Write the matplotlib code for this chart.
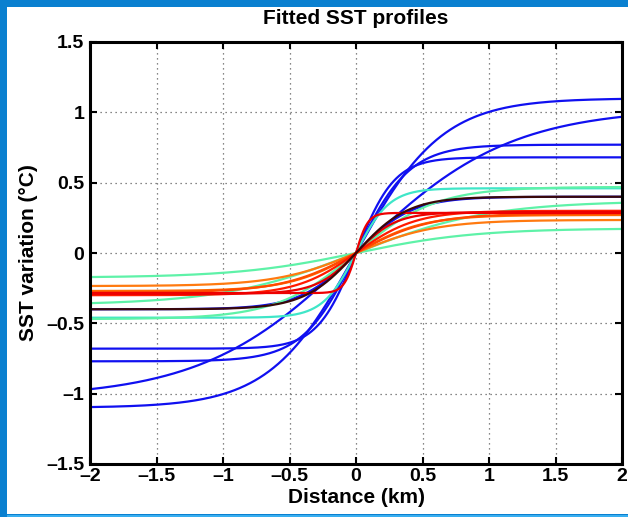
import numpy as np
import matplotlib
matplotlib.use("Agg")
import matplotlib.pyplot as plt
from matplotlib.patches import Rectangle
from matplotlib.ticker import FuncFormatter

# Fitted front parameters: SST(x) = amplitude * tanh(x / width)
amplitudes = [1.10, 1.03, 0.77, 0.68, 0.40, 0.46, 0.47, 0.37, 0.175,
              0.235, 0.27, 0.28, 0.30, 0.29, 0.285, 0.40]
widths     = [0.65, 1.15, 0.40, 0.29, 0.42, 0.25, 0.60, 1.00, 0.90,
              0.60, 0.50, 0.55, 0.45, 0.30, 0.09, 0.39]
colors     = ["#1010f0", "#1010f0", "#1010f0", "#1010f0", "#1010f0",
              "#3fe6c8", "#5ef2a8", "#5ef2a8", "#5ef2a8",
              "#ff7a10", "#ff6a00", "#ff4a00", "#ff1a00", "#e80000",
              "#ee0000", "#3a0808"]

x_ticks = [-2, -1.5, -1, -0.5, 0, 0.5, 1, 1.5, 2]
y_ticks = [-1.5, -1, -0.5, 0, 0.5, 1, 1.5]

distance = np.linspace(-2, 2, 801)

fig = plt.figure(figsize=(6.28, 5.17), dpi=100)
fig.patch.set_facecolor("#0a80d0")
fig.patches.append(Rectangle((7 / 628, 3 / 517), 1, 1 - 10 / 517,
                             transform=fig.transFigure, facecolor="white",
                             edgecolor="none", zorder=-10))
fig.patches.append(Rectangle((7 / 628, 0), 1, 2 / 517,
                             transform=fig.transFigure, facecolor="#38aef0",
                             edgecolor="none", zorder=-10))

ax = fig.add_axes([90 / 628, 1 - 464 / 517, 532 / 628, 422 / 517])
ax.set_zorder(5)
for amp, w, c in zip(amplitudes, widths, colors):
    ax.plot(distance, amp * np.tanh(distance / w), color=c, lw=1.6,
            solid_capstyle="butt")

ax.set_xlim(-2, 2)
ax.set_ylim(-1.5, 1.5)
ax.set_xticks(x_ticks)
ax.set_yticks(y_ticks)
fmt = FuncFormatter(lambda v, p: ("%g" % v).replace("-", "\u2013"))
ax.xaxis.set_major_formatter(fmt)
ax.yaxis.set_major_formatter(fmt)

font = dict(family="Liberation Sans", weight="bold", size=15)
for lab in ax.get_xticklabels() + ax.get_yticklabels():
    lab.set_fontfamily("Liberation Sans")
    lab.set_fontweight("bold")
    lab.set_fontsize(14)

ax.tick_params(direction="in", length=5, width=1.5, top=True, right=True,
               colors="black")
ax.tick_params(axis="x", pad=3)
ax.tick_params(axis="y", pad=4)
ax.grid(True, linestyle=(0, (1, 3)), color="#606060", lw=0.9)
for s in ax.spines.values():
    s.set_linewidth(2.2)
    s.set_color("black")

ax.set_xlabel("Distance (km)", labelpad=2, **font)
ax.set_ylabel("SST variation (\u00b0C)", labelpad=6, **font)
ax.set_title("Fitted SST profiles", pad=13, **font)

fig.savefig("out.png", dpi=100, facecolor=fig.get_facecolor())
